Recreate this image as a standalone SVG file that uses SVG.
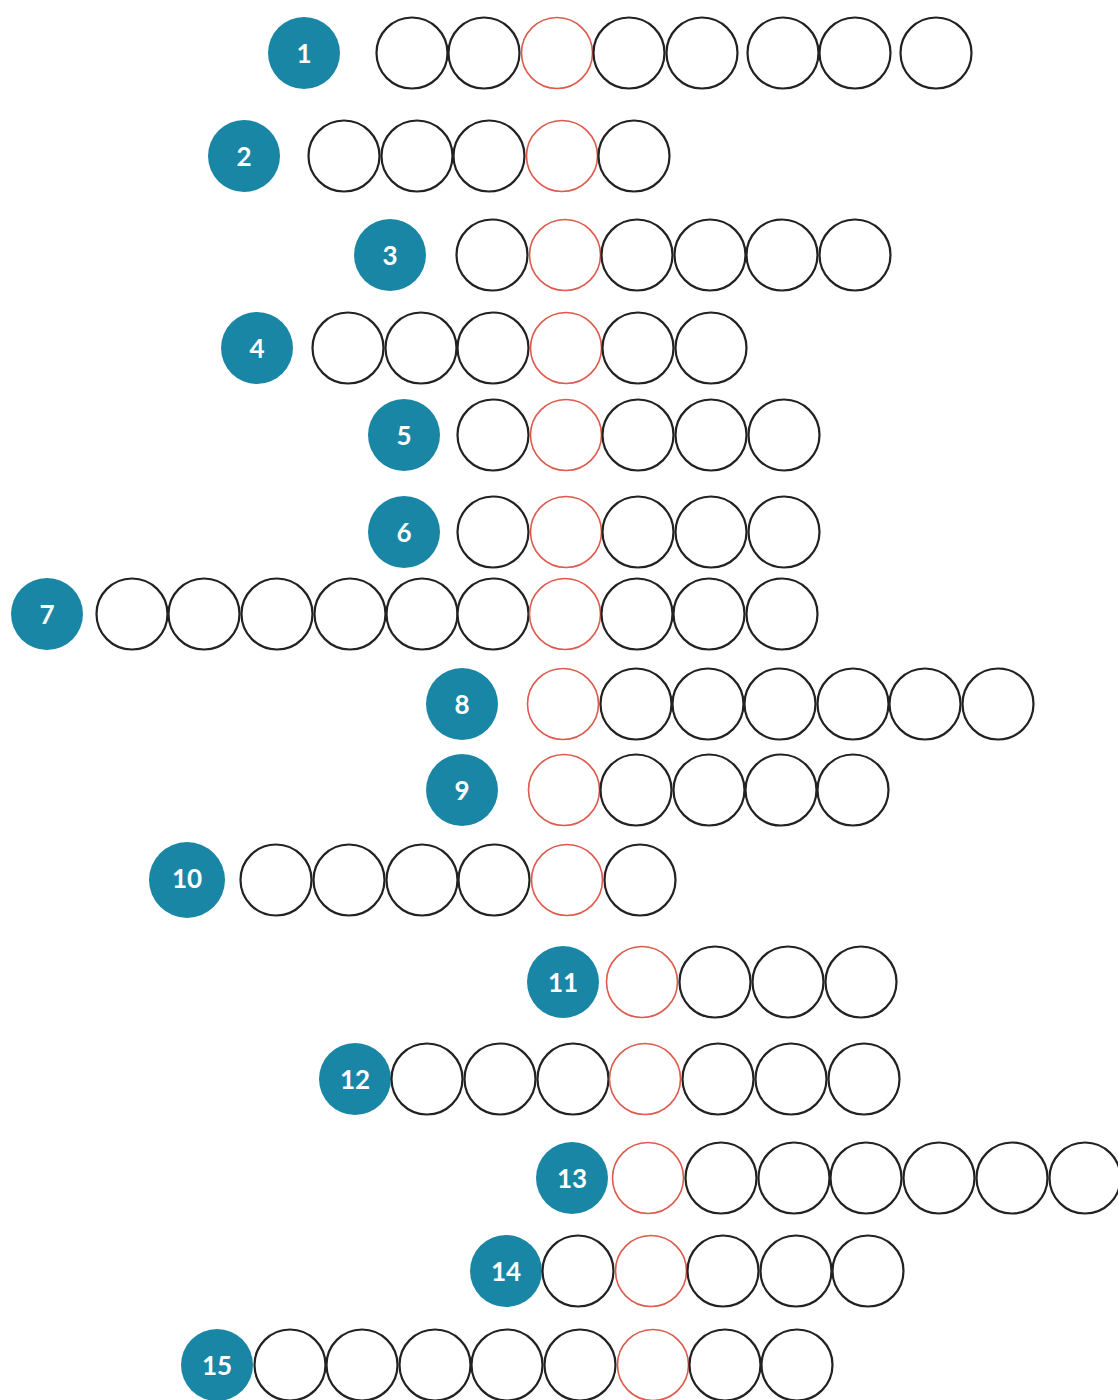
<svg xmlns="http://www.w3.org/2000/svg" width="1118" height="1400" viewBox="0 0 1118 1400">
<style>
.c{fill:#fff;stroke:#222;stroke-width:2.2}
.r{fill:#fff;stroke:#dd5a4c;stroke-width:1.6}
.b{fill:#1a86a5}
.t{fill:#fff;font-family:Lato,"Open Sans",sans-serif;font-weight:bold;font-size:26px;text-anchor:middle;dominant-baseline:central}
</style>
<rect width="1118" height="1400" fill="#fff"/>
<g id="row1">
<circle class="b" cx="304" cy="53" r="36"/><text class="t" x="304" y="53">1</text>
<circle class="c" cx="412" cy="53" r="35.5"/><circle class="c" cx="484" cy="53" r="35.5"/><circle class="r" cx="557" cy="53" r="35.5"/><circle class="c" cx="629" cy="53" r="35.5"/><circle class="c" cx="702" cy="53" r="35.5"/><circle class="c" cx="783" cy="53" r="35.5"/><circle class="c" cx="855" cy="53" r="35.5"/><circle class="c" cx="936" cy="53" r="35.5"/>
</g>
<g id="row2">
<circle class="b" cx="244" cy="156" r="36"/><text class="t" x="244" y="156">2</text>
<circle class="c" cx="344" cy="156" r="35.5"/><circle class="c" cx="417" cy="156" r="35.5"/><circle class="c" cx="489" cy="156" r="35.5"/><circle class="r" cx="562" cy="156" r="35.5"/><circle class="c" cx="634" cy="156" r="35.5"/>
</g>
<g id="row3">
<circle class="b" cx="390" cy="255" r="36"/><text class="t" x="390" y="255">3</text>
<circle class="c" cx="492" cy="255" r="35.5"/><circle class="r" cx="565" cy="255" r="35.5"/><circle class="c" cx="637" cy="255" r="35.5"/><circle class="c" cx="710" cy="255" r="35.5"/><circle class="c" cx="782" cy="255" r="35.5"/><circle class="c" cx="855" cy="255" r="35.5"/>
</g>
<g id="row4">
<circle class="b" cx="257" cy="348" r="36"/><text class="t" x="257" y="348">4</text>
<circle class="c" cx="348" cy="348" r="35.5"/><circle class="c" cx="421" cy="348" r="35.5"/><circle class="c" cx="493" cy="348" r="35.5"/><circle class="r" cx="566" cy="348" r="35.5"/><circle class="c" cx="638" cy="348" r="35.5"/><circle class="c" cx="711" cy="348" r="35.5"/>
</g>
<g id="row5">
<circle class="b" cx="404" cy="435" r="36"/><text class="t" x="404" y="435">5</text>
<circle class="c" cx="493" cy="435" r="35.5"/><circle class="r" cx="566" cy="435" r="35.5"/><circle class="c" cx="638" cy="435" r="35.5"/><circle class="c" cx="711" cy="435" r="35.5"/><circle class="c" cx="784" cy="435" r="35.5"/>
</g>
<g id="row6">
<circle class="b" cx="404" cy="532" r="36"/><text class="t" x="404" y="532">6</text>
<circle class="c" cx="493" cy="532" r="35.5"/><circle class="r" cx="566" cy="532" r="35.5"/><circle class="c" cx="638" cy="532" r="35.5"/><circle class="c" cx="711" cy="532" r="35.5"/><circle class="c" cx="784" cy="532" r="35.5"/>
</g>
<g id="row7">
<circle class="b" cx="47" cy="614" r="36"/><text class="t" x="47" y="614">7</text>
<circle class="c" cx="132" cy="614" r="35.5"/><circle class="c" cx="204" cy="614" r="35.5"/><circle class="c" cx="277" cy="614" r="35.5"/><circle class="c" cx="350" cy="614" r="35.5"/><circle class="c" cx="422" cy="614" r="35.5"/><circle class="c" cx="493" cy="614" r="35.5"/><circle class="r" cx="565" cy="614" r="35.5"/><circle class="c" cx="637" cy="614" r="35.5"/><circle class="c" cx="709" cy="614" r="35.5"/><circle class="c" cx="782" cy="614" r="35.5"/>
</g>
<g id="row8">
<circle class="b" cx="462" cy="704" r="36"/><text class="t" x="462" y="704">8</text>
<circle class="r" cx="563" cy="704" r="35.5"/><circle class="c" cx="636" cy="704" r="35.5"/><circle class="c" cx="708" cy="704" r="35.5"/><circle class="c" cx="780" cy="704" r="35.5"/><circle class="c" cx="853" cy="704" r="35.5"/><circle class="c" cx="925" cy="704" r="35.5"/><circle class="c" cx="998" cy="704" r="35.5"/>
</g>
<g id="row9">
<circle class="b" cx="462" cy="790" r="36"/><text class="t" x="462" y="790">9</text>
<circle class="r" cx="564" cy="790" r="35.5"/><circle class="c" cx="636" cy="790" r="35.5"/><circle class="c" cx="709" cy="790" r="35.5"/><circle class="c" cx="781" cy="790" r="35.5"/><circle class="c" cx="853" cy="790" r="35.5"/>
</g>
<g id="row10">
<circle class="b" cx="187" cy="880" r="38"/><text class="t" x="187" y="878">10</text>
<circle class="c" cx="276" cy="880" r="35.5"/><circle class="c" cx="349" cy="880" r="35.5"/><circle class="c" cx="422" cy="880" r="35.5"/><circle class="c" cx="494" cy="880" r="35.5"/><circle class="r" cx="567" cy="880" r="35.5"/><circle class="c" cx="640" cy="880" r="35.5"/>
</g>
<g id="row11">
<circle class="b" cx="563" cy="982" r="36"/><text class="t" x="563" y="982">11</text>
<circle class="r" cx="642" cy="982" r="35.5"/><circle class="c" cx="715" cy="982" r="35.5"/><circle class="c" cx="788" cy="982" r="35.5"/><circle class="c" cx="861" cy="982" r="35.5"/>
</g>
<g id="row12">
<circle class="b" cx="355" cy="1079" r="36"/><text class="t" x="355" y="1079">12</text>
<circle class="c" cx="427" cy="1079" r="35.5"/><circle class="c" cx="500" cy="1079" r="35.5"/><circle class="c" cx="573" cy="1079" r="35.5"/><circle class="r" cx="645" cy="1079" r="35.5"/><circle class="c" cx="718" cy="1079" r="35.5"/><circle class="c" cx="791" cy="1079" r="35.5"/><circle class="c" cx="864" cy="1079" r="35.5"/>
</g>
<g id="row13">
<circle class="b" cx="572" cy="1178" r="36"/><text class="t" x="572" y="1178">13</text>
<circle class="r" cx="648" cy="1178" r="35.5"/><circle class="c" cx="721" cy="1178" r="35.5"/><circle class="c" cx="794" cy="1178" r="35.5"/><circle class="c" cx="866" cy="1178" r="35.5"/><circle class="c" cx="939" cy="1178" r="35.5"/><circle class="c" cx="1012" cy="1178" r="35.5"/><circle class="c" cx="1085" cy="1178" r="35.5"/>
</g>
<g id="row14">
<circle class="b" cx="506" cy="1271" r="36"/><text class="t" x="506" y="1271">14</text>
<circle class="c" cx="578" cy="1271" r="35.5"/><circle class="r" cx="651" cy="1271" r="35.5"/><circle class="c" cx="723" cy="1271" r="35.5"/><circle class="c" cx="796" cy="1271" r="35.5"/><circle class="c" cx="868" cy="1271" r="35.5"/>
</g>
<g id="row15">
<circle class="b" cx="217" cy="1365" r="36"/><text class="t" x="217" y="1365">15</text>
<circle class="c" cx="290" cy="1365" r="35.5"/><circle class="c" cx="362" cy="1365" r="35.5"/><circle class="c" cx="435" cy="1365" r="35.5"/><circle class="c" cx="507" cy="1365" r="35.5"/><circle class="c" cx="580" cy="1365" r="35.5"/><circle class="r" cx="653" cy="1365" r="35.5"/><circle class="c" cx="725" cy="1365" r="35.5"/><circle class="c" cx="797" cy="1365" r="35.5"/>
</g>
<g id="connectors"></g>
</svg>
